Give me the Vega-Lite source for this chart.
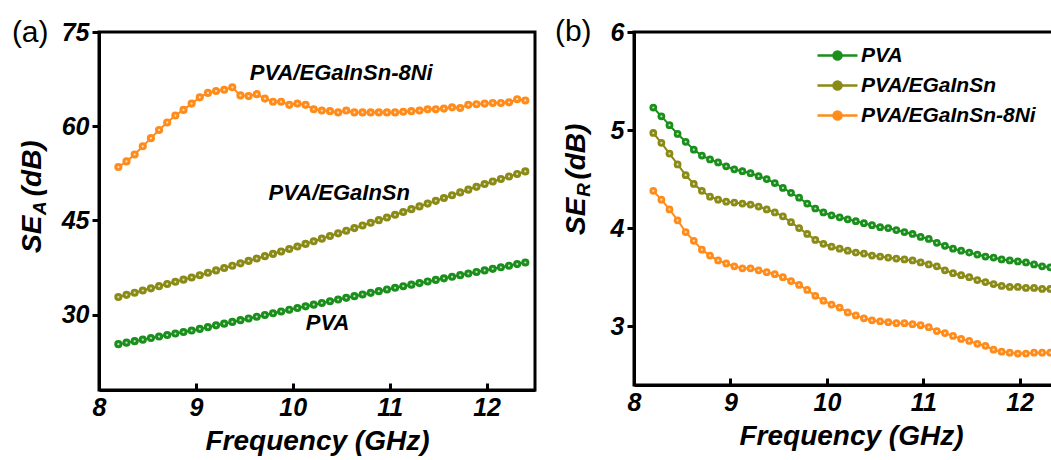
{
  "$schema": "https://vega.github.io/schema/vega-lite/v6.json",
  "background": "white",
  "padding": {"left": 10, "top": 15, "right": 5, "bottom": 5},
  "bounds": "flush",
  "spacing": 99,
  "resolve": {"scale": {"color": "independent"}, "legend": {"color": "independent"}},
  "config": {
    "font": "Liberation Sans",
    "view": {"stroke": "black", "strokeWidth": 3},
    "axis": {
      "domainColor": "black", "domainWidth": 3, "tickColor": "black", "tickWidth": 3,
      "grid": false, "labelFont": "Liberation Sans", "labelFontWeight": "bold",
      "labelFontStyle": "italic", "labelFontSize": 25, "labelColor": "black",
      "labelFlush": false, "labelOverlap": false, "format": "d",
      "titleFont": "Liberation Sans", "titleFontWeight": "bold", "titleFontStyle": "italic",
      "titleFontSize": 28, "titleColor": "black"
    }
  },
  "datasets": {
    "one": [{"k": 1}],
    "a": [
      {"f":8.2,"v":25.3,"s":"PVA"},{"f":8.284,"v":25.54,"s":"PVA"},{"f":8.368,"v":25.78,"s":"PVA"},{"f":8.452,"v":26.02,"s":"PVA"},{"f":8.536,"v":26.27,"s":"PVA"},{"f":8.62,"v":26.51,"s":"PVA"},{"f":8.704,"v":26.75,"s":"PVA"},{"f":8.788,"v":26.99,"s":"PVA"},{"f":8.872,"v":27.23,"s":"PVA"},{"f":8.956,"v":27.47,"s":"PVA"},{"f":9.04,"v":27.73,"s":"PVA"},{"f":9.124,"v":28.01,"s":"PVA"},{"f":9.208,"v":28.29,"s":"PVA"},{"f":9.292,"v":28.56,"s":"PVA"},{"f":9.376,"v":28.84,"s":"PVA"},{"f":9.46,"v":29.12,"s":"PVA"},{"f":9.544,"v":29.39,"s":"PVA"},{"f":9.628,"v":29.67,"s":"PVA"},{"f":9.712,"v":29.95,"s":"PVA"},{"f":9.796,"v":30.22,"s":"PVA"},{"f":9.88,"v":30.5,"s":"PVA"},{"f":9.964,"v":30.78,"s":"PVA"},{"f":10.048,"v":31.05,"s":"PVA"},{"f":10.132,"v":31.32,"s":"PVA"},{"f":10.216,"v":31.59,"s":"PVA"},{"f":10.3,"v":31.86,"s":"PVA"},{"f":10.384,"v":32.13,"s":"PVA"},{"f":10.468,"v":32.4,"s":"PVA"},{"f":10.552,"v":32.67,"s":"PVA"},{"f":10.636,"v":32.94,"s":"PVA"},{"f":10.72,"v":33.21,"s":"PVA"},{"f":10.804,"v":33.47,"s":"PVA"},{"f":10.888,"v":33.74,"s":"PVA"},{"f":10.972,"v":34.01,"s":"PVA"},{"f":11.056,"v":34.27,"s":"PVA"},{"f":11.14,"v":34.52,"s":"PVA"},{"f":11.224,"v":34.77,"s":"PVA"},{"f":11.308,"v":35.02,"s":"PVA"},{"f":11.392,"v":35.28,"s":"PVA"},{"f":11.476,"v":35.53,"s":"PVA"},{"f":11.56,"v":35.78,"s":"PVA"},{"f":11.644,"v":36.03,"s":"PVA"},{"f":11.728,"v":36.29,"s":"PVA"},{"f":11.812,"v":36.54,"s":"PVA"},{"f":11.896,"v":36.79,"s":"PVA"},{"f":11.98,"v":37.04,"s":"PVA"},{"f":12.064,"v":37.29,"s":"PVA"},{"f":12.148,"v":37.54,"s":"PVA"},{"f":12.232,"v":37.79,"s":"PVA"},{"f":12.316,"v":38.05,"s":"PVA"},{"f":12.4,"v":38.3,"s":"PVA"},
      {"f":8.2,"v":32.8,"s":"PVA/EGaInSn"},{"f":8.284,"v":33.15,"s":"PVA/EGaInSn"},{"f":8.368,"v":33.49,"s":"PVA/EGaInSn"},{"f":8.452,"v":33.84,"s":"PVA/EGaInSn"},{"f":8.536,"v":34.19,"s":"PVA/EGaInSn"},{"f":8.62,"v":34.53,"s":"PVA/EGaInSn"},{"f":8.704,"v":34.88,"s":"PVA/EGaInSn"},{"f":8.788,"v":35.23,"s":"PVA/EGaInSn"},{"f":8.872,"v":35.57,"s":"PVA/EGaInSn"},{"f":8.956,"v":35.92,"s":"PVA/EGaInSn"},{"f":9.04,"v":36.28,"s":"PVA/EGaInSn"},{"f":9.124,"v":36.66,"s":"PVA/EGaInSn"},{"f":9.208,"v":37.04,"s":"PVA/EGaInSn"},{"f":9.292,"v":37.42,"s":"PVA/EGaInSn"},{"f":9.376,"v":37.79,"s":"PVA/EGaInSn"},{"f":9.46,"v":38.17,"s":"PVA/EGaInSn"},{"f":9.544,"v":38.55,"s":"PVA/EGaInSn"},{"f":9.628,"v":38.93,"s":"PVA/EGaInSn"},{"f":9.712,"v":39.31,"s":"PVA/EGaInSn"},{"f":9.796,"v":39.68,"s":"PVA/EGaInSn"},{"f":9.88,"v":40.06,"s":"PVA/EGaInSn"},{"f":9.964,"v":40.44,"s":"PVA/EGaInSn"},{"f":10.048,"v":40.84,"s":"PVA/EGaInSn"},{"f":10.132,"v":41.26,"s":"PVA/EGaInSn"},{"f":10.216,"v":41.68,"s":"PVA/EGaInSn"},{"f":10.3,"v":42.1,"s":"PVA/EGaInSn"},{"f":10.384,"v":42.52,"s":"PVA/EGaInSn"},{"f":10.468,"v":42.94,"s":"PVA/EGaInSn"},{"f":10.552,"v":43.36,"s":"PVA/EGaInSn"},{"f":10.636,"v":43.78,"s":"PVA/EGaInSn"},{"f":10.72,"v":44.2,"s":"PVA/EGaInSn"},{"f":10.804,"v":44.62,"s":"PVA/EGaInSn"},{"f":10.888,"v":45.04,"s":"PVA/EGaInSn"},{"f":10.972,"v":45.46,"s":"PVA/EGaInSn"},{"f":11.056,"v":45.9,"s":"PVA/EGaInSn"},{"f":11.14,"v":46.34,"s":"PVA/EGaInSn"},{"f":11.224,"v":46.79,"s":"PVA/EGaInSn"},{"f":11.308,"v":47.23,"s":"PVA/EGaInSn"},{"f":11.392,"v":47.68,"s":"PVA/EGaInSn"},{"f":11.476,"v":48.12,"s":"PVA/EGaInSn"},{"f":11.56,"v":48.57,"s":"PVA/EGaInSn"},{"f":11.644,"v":49.01,"s":"PVA/EGaInSn"},{"f":11.728,"v":49.46,"s":"PVA/EGaInSn"},{"f":11.812,"v":49.9,"s":"PVA/EGaInSn"},{"f":11.896,"v":50.35,"s":"PVA/EGaInSn"},{"f":11.98,"v":50.79,"s":"PVA/EGaInSn"},{"f":12.064,"v":51.2,"s":"PVA/EGaInSn"},{"f":12.148,"v":51.6,"s":"PVA/EGaInSn"},{"f":12.232,"v":52.0,"s":"PVA/EGaInSn"},{"f":12.316,"v":52.4,"s":"PVA/EGaInSn"},{"f":12.4,"v":52.8,"s":"PVA/EGaInSn"},
      {"f":8.2,"v":53.5,"s":"PVA/EGaInSn-8Ni"},{"f":8.284,"v":54.4,"s":"PVA/EGaInSn-8Ni"},{"f":8.368,"v":55.5,"s":"PVA/EGaInSn-8Ni"},{"f":8.452,"v":56.8,"s":"PVA/EGaInSn-8Ni"},{"f":8.536,"v":58.1,"s":"PVA/EGaInSn-8Ni"},{"f":8.62,"v":59.4,"s":"PVA/EGaInSn-8Ni"},{"f":8.704,"v":60.6,"s":"PVA/EGaInSn-8Ni"},{"f":8.788,"v":61.7,"s":"PVA/EGaInSn-8Ni"},{"f":8.872,"v":62.6,"s":"PVA/EGaInSn-8Ni"},{"f":8.956,"v":63.6,"s":"PVA/EGaInSn-8Ni"},{"f":9.04,"v":64.6,"s":"PVA/EGaInSn-8Ni"},{"f":9.124,"v":65.3,"s":"PVA/EGaInSn-8Ni"},{"f":9.208,"v":65.6,"s":"PVA/EGaInSn-8Ni"},{"f":9.292,"v":65.8,"s":"PVA/EGaInSn-8Ni"},{"f":9.376,"v":66.2,"s":"PVA/EGaInSn-8Ni"},{"f":9.46,"v":64.9,"s":"PVA/EGaInSn-8Ni"},{"f":9.544,"v":64.8,"s":"PVA/EGaInSn-8Ni"},{"f":9.628,"v":65.1,"s":"PVA/EGaInSn-8Ni"},{"f":9.712,"v":64.4,"s":"PVA/EGaInSn-8Ni"},{"f":9.796,"v":63.9,"s":"PVA/EGaInSn-8Ni"},{"f":9.88,"v":63.9,"s":"PVA/EGaInSn-8Ni"},{"f":9.964,"v":63.4,"s":"PVA/EGaInSn-8Ni"},{"f":10.048,"v":63.6,"s":"PVA/EGaInSn-8Ni"},{"f":10.132,"v":63.4,"s":"PVA/EGaInSn-8Ni"},{"f":10.216,"v":62.7,"s":"PVA/EGaInSn-8Ni"},{"f":10.3,"v":62.5,"s":"PVA/EGaInSn-8Ni"},{"f":10.384,"v":62.4,"s":"PVA/EGaInSn-8Ni"},{"f":10.468,"v":62.2,"s":"PVA/EGaInSn-8Ni"},{"f":10.552,"v":62.5,"s":"PVA/EGaInSn-8Ni"},{"f":10.636,"v":62.2,"s":"PVA/EGaInSn-8Ni"},{"f":10.72,"v":62.2,"s":"PVA/EGaInSn-8Ni"},{"f":10.804,"v":62.2,"s":"PVA/EGaInSn-8Ni"},{"f":10.888,"v":62.2,"s":"PVA/EGaInSn-8Ni"},{"f":10.972,"v":62.2,"s":"PVA/EGaInSn-8Ni"},{"f":11.056,"v":62.2,"s":"PVA/EGaInSn-8Ni"},{"f":11.14,"v":62.3,"s":"PVA/EGaInSn-8Ni"},{"f":11.224,"v":62.4,"s":"PVA/EGaInSn-8Ni"},{"f":11.308,"v":62.5,"s":"PVA/EGaInSn-8Ni"},{"f":11.392,"v":62.7,"s":"PVA/EGaInSn-8Ni"},{"f":11.476,"v":62.7,"s":"PVA/EGaInSn-8Ni"},{"f":11.56,"v":62.8,"s":"PVA/EGaInSn-8Ni"},{"f":11.644,"v":63.0,"s":"PVA/EGaInSn-8Ni"},{"f":11.728,"v":62.9,"s":"PVA/EGaInSn-8Ni"},{"f":11.812,"v":63.4,"s":"PVA/EGaInSn-8Ni"},{"f":11.896,"v":63.5,"s":"PVA/EGaInSn-8Ni"},{"f":11.98,"v":63.6,"s":"PVA/EGaInSn-8Ni"},{"f":12.064,"v":63.7,"s":"PVA/EGaInSn-8Ni"},{"f":12.148,"v":63.7,"s":"PVA/EGaInSn-8Ni"},{"f":12.232,"v":63.8,"s":"PVA/EGaInSn-8Ni"},{"f":12.316,"v":64.3,"s":"PVA/EGaInSn-8Ni"},{"f":12.4,"v":64.1,"s":"PVA/EGaInSn-8Ni"}
    ],
    "b": [
      {"f":8.2,"v":5.23,"s":"PVA"},{"f":8.284,"v":5.14,"s":"PVA"},{"f":8.368,"v":5.05,"s":"PVA"},{"f":8.452,"v":4.96,"s":"PVA"},{"f":8.536,"v":4.88,"s":"PVA"},{"f":8.62,"v":4.8,"s":"PVA"},{"f":8.704,"v":4.74,"s":"PVA"},{"f":8.788,"v":4.7,"s":"PVA"},{"f":8.872,"v":4.67,"s":"PVA"},{"f":8.956,"v":4.63,"s":"PVA"},{"f":9.04,"v":4.6,"s":"PVA"},{"f":9.124,"v":4.58,"s":"PVA"},{"f":9.208,"v":4.56,"s":"PVA"},{"f":9.292,"v":4.53,"s":"PVA"},{"f":9.376,"v":4.5,"s":"PVA"},{"f":9.46,"v":4.46,"s":"PVA"},{"f":9.544,"v":4.41,"s":"PVA"},{"f":9.628,"v":4.36,"s":"PVA"},{"f":9.712,"v":4.31,"s":"PVA"},{"f":9.796,"v":4.25,"s":"PVA"},{"f":9.88,"v":4.2,"s":"PVA"},{"f":9.964,"v":4.16,"s":"PVA"},{"f":10.048,"v":4.13,"s":"PVA"},{"f":10.132,"v":4.11,"s":"PVA"},{"f":10.216,"v":4.09,"s":"PVA"},{"f":10.3,"v":4.07,"s":"PVA"},{"f":10.384,"v":4.05,"s":"PVA"},{"f":10.468,"v":4.03,"s":"PVA"},{"f":10.552,"v":4.01,"s":"PVA"},{"f":10.636,"v":4.0,"s":"PVA"},{"f":10.72,"v":3.98,"s":"PVA"},{"f":10.804,"v":3.96,"s":"PVA"},{"f":10.888,"v":3.94,"s":"PVA"},{"f":10.972,"v":3.91,"s":"PVA"},{"f":11.056,"v":3.89,"s":"PVA"},{"f":11.14,"v":3.85,"s":"PVA"},{"f":11.224,"v":3.82,"s":"PVA"},{"f":11.308,"v":3.79,"s":"PVA"},{"f":11.392,"v":3.77,"s":"PVA"},{"f":11.476,"v":3.75,"s":"PVA"},{"f":11.56,"v":3.73,"s":"PVA"},{"f":11.644,"v":3.71,"s":"PVA"},{"f":11.728,"v":3.7,"s":"PVA"},{"f":11.812,"v":3.68,"s":"PVA"},{"f":11.896,"v":3.67,"s":"PVA"},{"f":11.98,"v":3.66,"s":"PVA"},{"f":12.064,"v":3.65,"s":"PVA"},{"f":12.148,"v":3.63,"s":"PVA"},{"f":12.232,"v":3.61,"s":"PVA"},{"f":12.316,"v":3.6,"s":"PVA"},{"f":12.4,"v":3.58,"s":"PVA"},
      {"f":8.2,"v":4.97,"s":"PVA/EGaInSn"},{"f":8.284,"v":4.87,"s":"PVA/EGaInSn"},{"f":8.368,"v":4.76,"s":"PVA/EGaInSn"},{"f":8.452,"v":4.65,"s":"PVA/EGaInSn"},{"f":8.536,"v":4.54,"s":"PVA/EGaInSn"},{"f":8.62,"v":4.45,"s":"PVA/EGaInSn"},{"f":8.704,"v":4.38,"s":"PVA/EGaInSn"},{"f":8.788,"v":4.32,"s":"PVA/EGaInSn"},{"f":8.872,"v":4.29,"s":"PVA/EGaInSn"},{"f":8.956,"v":4.27,"s":"PVA/EGaInSn"},{"f":9.04,"v":4.26,"s":"PVA/EGaInSn"},{"f":9.124,"v":4.25,"s":"PVA/EGaInSn"},{"f":9.208,"v":4.24,"s":"PVA/EGaInSn"},{"f":9.292,"v":4.22,"s":"PVA/EGaInSn"},{"f":9.376,"v":4.19,"s":"PVA/EGaInSn"},{"f":9.46,"v":4.16,"s":"PVA/EGaInSn"},{"f":9.544,"v":4.12,"s":"PVA/EGaInSn"},{"f":9.628,"v":4.06,"s":"PVA/EGaInSn"},{"f":9.712,"v":4.0,"s":"PVA/EGaInSn"},{"f":9.796,"v":3.94,"s":"PVA/EGaInSn"},{"f":9.88,"v":3.88,"s":"PVA/EGaInSn"},{"f":9.964,"v":3.84,"s":"PVA/EGaInSn"},{"f":10.048,"v":3.81,"s":"PVA/EGaInSn"},{"f":10.132,"v":3.79,"s":"PVA/EGaInSn"},{"f":10.216,"v":3.77,"s":"PVA/EGaInSn"},{"f":10.3,"v":3.75,"s":"PVA/EGaInSn"},{"f":10.384,"v":3.74,"s":"PVA/EGaInSn"},{"f":10.468,"v":3.72,"s":"PVA/EGaInSn"},{"f":10.552,"v":3.71,"s":"PVA/EGaInSn"},{"f":10.636,"v":3.7,"s":"PVA/EGaInSn"},{"f":10.72,"v":3.69,"s":"PVA/EGaInSn"},{"f":10.804,"v":3.68,"s":"PVA/EGaInSn"},{"f":10.888,"v":3.67,"s":"PVA/EGaInSn"},{"f":10.972,"v":3.65,"s":"PVA/EGaInSn"},{"f":11.056,"v":3.63,"s":"PVA/EGaInSn"},{"f":11.14,"v":3.61,"s":"PVA/EGaInSn"},{"f":11.224,"v":3.57,"s":"PVA/EGaInSn"},{"f":11.308,"v":3.54,"s":"PVA/EGaInSn"},{"f":11.392,"v":3.52,"s":"PVA/EGaInSn"},{"f":11.476,"v":3.5,"s":"PVA/EGaInSn"},{"f":11.56,"v":3.47,"s":"PVA/EGaInSn"},{"f":11.644,"v":3.45,"s":"PVA/EGaInSn"},{"f":11.728,"v":3.43,"s":"PVA/EGaInSn"},{"f":11.812,"v":3.41,"s":"PVA/EGaInSn"},{"f":11.896,"v":3.4,"s":"PVA/EGaInSn"},{"f":11.98,"v":3.4,"s":"PVA/EGaInSn"},{"f":12.064,"v":3.39,"s":"PVA/EGaInSn"},{"f":12.148,"v":3.39,"s":"PVA/EGaInSn"},{"f":12.232,"v":3.38,"s":"PVA/EGaInSn"},{"f":12.316,"v":3.38,"s":"PVA/EGaInSn"},{"f":12.4,"v":3.38,"s":"PVA/EGaInSn"},
      {"f":8.2,"v":4.38,"s":"PVA/EGaInSn-8Ni"},{"f":8.284,"v":4.29,"s":"PVA/EGaInSn-8Ni"},{"f":8.368,"v":4.19,"s":"PVA/EGaInSn-8Ni"},{"f":8.452,"v":4.08,"s":"PVA/EGaInSn-8Ni"},{"f":8.536,"v":3.96,"s":"PVA/EGaInSn-8Ni"},{"f":8.62,"v":3.87,"s":"PVA/EGaInSn-8Ni"},{"f":8.704,"v":3.78,"s":"PVA/EGaInSn-8Ni"},{"f":8.788,"v":3.72,"s":"PVA/EGaInSn-8Ni"},{"f":8.872,"v":3.67,"s":"PVA/EGaInSn-8Ni"},{"f":8.956,"v":3.64,"s":"PVA/EGaInSn-8Ni"},{"f":9.04,"v":3.61,"s":"PVA/EGaInSn-8Ni"},{"f":9.124,"v":3.59,"s":"PVA/EGaInSn-8Ni"},{"f":9.208,"v":3.59,"s":"PVA/EGaInSn-8Ni"},{"f":9.292,"v":3.57,"s":"PVA/EGaInSn-8Ni"},{"f":9.376,"v":3.55,"s":"PVA/EGaInSn-8Ni"},{"f":9.46,"v":3.53,"s":"PVA/EGaInSn-8Ni"},{"f":9.544,"v":3.5,"s":"PVA/EGaInSn-8Ni"},{"f":9.628,"v":3.46,"s":"PVA/EGaInSn-8Ni"},{"f":9.712,"v":3.42,"s":"PVA/EGaInSn-8Ni"},{"f":9.796,"v":3.37,"s":"PVA/EGaInSn-8Ni"},{"f":9.88,"v":3.31,"s":"PVA/EGaInSn-8Ni"},{"f":9.964,"v":3.26,"s":"PVA/EGaInSn-8Ni"},{"f":10.048,"v":3.22,"s":"PVA/EGaInSn-8Ni"},{"f":10.132,"v":3.19,"s":"PVA/EGaInSn-8Ni"},{"f":10.216,"v":3.14,"s":"PVA/EGaInSn-8Ni"},{"f":10.3,"v":3.11,"s":"PVA/EGaInSn-8Ni"},{"f":10.384,"v":3.08,"s":"PVA/EGaInSn-8Ni"},{"f":10.468,"v":3.06,"s":"PVA/EGaInSn-8Ni"},{"f":10.552,"v":3.05,"s":"PVA/EGaInSn-8Ni"},{"f":10.636,"v":3.04,"s":"PVA/EGaInSn-8Ni"},{"f":10.72,"v":3.03,"s":"PVA/EGaInSn-8Ni"},{"f":10.804,"v":3.03,"s":"PVA/EGaInSn-8Ni"},{"f":10.888,"v":3.02,"s":"PVA/EGaInSn-8Ni"},{"f":10.972,"v":3.01,"s":"PVA/EGaInSn-8Ni"},{"f":11.056,"v":2.99,"s":"PVA/EGaInSn-8Ni"},{"f":11.14,"v":2.95,"s":"PVA/EGaInSn-8Ni"},{"f":11.224,"v":2.93,"s":"PVA/EGaInSn-8Ni"},{"f":11.308,"v":2.9,"s":"PVA/EGaInSn-8Ni"},{"f":11.392,"v":2.87,"s":"PVA/EGaInSn-8Ni"},{"f":11.476,"v":2.85,"s":"PVA/EGaInSn-8Ni"},{"f":11.56,"v":2.82,"s":"PVA/EGaInSn-8Ni"},{"f":11.644,"v":2.8,"s":"PVA/EGaInSn-8Ni"},{"f":11.728,"v":2.76,"s":"PVA/EGaInSn-8Ni"},{"f":11.812,"v":2.74,"s":"PVA/EGaInSn-8Ni"},{"f":11.896,"v":2.73,"s":"PVA/EGaInSn-8Ni"},{"f":11.98,"v":2.72,"s":"PVA/EGaInSn-8Ni"},{"f":12.064,"v":2.72,"s":"PVA/EGaInSn-8Ni"},{"f":12.148,"v":2.73,"s":"PVA/EGaInSn-8Ni"},{"f":12.232,"v":2.73,"s":"PVA/EGaInSn-8Ni"},{"f":12.316,"v":2.73,"s":"PVA/EGaInSn-8Ni"},{"f":12.4,"v":2.72,"s":"PVA/EGaInSn-8Ni"}
    ]
  },
  "hconcat": [
    {
      "width": 436,
      "height": 358,
      "layer": [
        {
          "data": {"name": "a"},
          "mark": {"type": "line", "strokeWidth": 2},
          "encoding": {
            "x": {"field": "f", "type": "quantitative", "scale": {"domain": [8, 12.5], "nice": false, "zero": false},
                  "axis": {"values": [8, 9, 10, 11, 12], "tickSize": -7, "labelPadding": 12, "title": "Frequency (GHz)", "titlePadding": 7}},
            "y": {"field": "v", "type": "quantitative", "scale": {"domain": [18, 75], "nice": false, "zero": false},
                  "axis": {"values": [30, 45, 60, 75], "tickSize": 7, "labelPadding": 3, "title": null}},
            "color": {"field": "s", "type": "nominal", "scale": {"domain": ["PVA", "PVA/EGaInSn", "PVA/EGaInSn-8Ni"], "range": ["#1b8f1b", "#8a8a16", "#ff8c1a"]}, "legend": null}
          }
        },
        {
          "data": {"name": "a"},
          "mark": {"type": "point", "filled": true, "size": 66, "opacity": 1},
          "encoding": {
            "x": {"field": "f", "type": "quantitative"},
            "y": {"field": "v", "type": "quantitative"},
            "color": {"field": "s", "type": "nominal", "legend": null}
          }
        },
        {
          "data": {"name": "a"},
          "mark": {"type": "point", "filled": true, "size": 5, "color": "white", "opacity": 0.7},
          "encoding": {
            "x": {"field": "f", "type": "quantitative"},
            "y": {"field": "v", "type": "quantitative"}
          }
        },
        {
          "data": {"name": "one"},
          "mark": {"type": "text", "font": "Liberation Sans", "fontSize": 22, "fontWeight": "bold", "fontStyle": "italic", "color": "black", "align": "center", "baseline": "middle"},
          "encoding": {"x": {"datum": 10.5, "type": "quantitative"}, "y": {"datum": 68.5, "type": "quantitative"}, "text": {"value": "PVA/EGaInSn-8Ni"}}
        },
        {
          "data": {"name": "one"},
          "mark": {"type": "text", "font": "Liberation Sans", "fontSize": 22, "fontWeight": "bold", "fontStyle": "italic", "color": "black", "align": "center", "baseline": "middle"},
          "encoding": {"x": {"datum": 10.48, "type": "quantitative"}, "y": {"datum": 49.3, "type": "quantitative"}, "text": {"value": "PVA/EGaInSn"}}
        },
        {
          "data": {"name": "one"},
          "mark": {"type": "text", "font": "Liberation Sans", "fontSize": 22, "fontWeight": "bold", "fontStyle": "italic", "color": "black", "align": "center", "baseline": "middle"},
          "encoding": {"x": {"datum": 10.36, "type": "quantitative"}, "y": {"datum": 28.6, "type": "quantitative"}, "text": {"value": "PVA"}}
        },
        {
          "data": {"name": "one"},
          "mark": {"type": "text", "font": "Liberation Sans", "fontSize": 30, "color": "black", "align": "center", "baseline": "middle"},
          "encoding": {"x": {"datum": 7.29, "type": "quantitative"}, "y": {"datum": 74.8, "type": "quantitative"}, "text": {"value": "(a)"}}
        },
        {
          "data": {"name": "one"},
          "mark": {"type": "text", "font": "Liberation Sans", "fontSize": 28, "fontWeight": "bold", "fontStyle": "italic", "color": "black", "align": "center", "baseline": "middle", "angle": 270},
          "encoding": {"x": {"datum": 7.316, "type": "quantitative"}, "y": {"datum": 42.8, "type": "quantitative"}, "text": {"value": "SE"}}
        },
        {
          "data": {"name": "one"},
          "mark": {"type": "text", "font": "Liberation Sans", "fontSize": 19, "fontWeight": "bold", "fontStyle": "italic", "color": "black", "align": "center", "baseline": "middle", "angle": 270, "dy": 7},
          "encoding": {"x": {"datum": 7.316, "type": "quantitative"}, "y": {"datum": 46.95, "type": "quantitative"}, "text": {"value": "A"}}
        },
        {
          "data": {"name": "one"},
          "mark": {"type": "text", "font": "Liberation Sans", "fontSize": 28, "fontWeight": "bold", "fontStyle": "italic", "color": "black", "align": "center", "baseline": "middle", "angle": 270},
          "encoding": {"x": {"datum": 7.316, "type": "quantitative"}, "y": {"datum": 53.3, "type": "quantitative"}, "text": {"value": "(dB)"}}
        }
      ]
    },
    {
      "width": 434,
      "height": 353,
      "layer": [
        {
          "data": {"name": "b"},
          "mark": {"type": "line", "strokeWidth": 2},
          "encoding": {
            "x": {"field": "f", "type": "quantitative", "scale": {"domain": [8, 12.5], "nice": false, "zero": false},
                  "axis": {"values": [8, 9, 10, 11, 12], "tickSize": -7, "labelPadding": 12, "title": "Frequency (GHz)", "titlePadding": 7}},
            "y": {"field": "v", "type": "quantitative", "scale": {"domain": [2.4, 6], "nice": false, "zero": false},
                  "axis": {"values": [3, 4, 5, 6], "tickSize": 7, "labelPadding": 3, "title": null}},
            "color": {"field": "s", "type": "nominal", "scale": {"domain": ["PVA", "PVA/EGaInSn", "PVA/EGaInSn-8Ni"], "range": ["#1b8f1b", "#8a8a16", "#ff8c1a"]},
                      "legend": {"title": null, "orient": "none", "legendX": 192, "legendY": 12, "padding": 0,
                                 "symbolType": "M-2,0L2,0M0.4,0A0.4,0.4,0,1,1,-0.4,0A0.4,0.4,0,1,1,0.4,0",
                                 "symbolSize": 400, "symbolStrokeWidth": 2.5, "labelOffset": 12, "rowPadding": 8,
                                 "labelFont": "Liberation Sans", "labelFontSize": 21, "labelFontWeight": "bold", "labelFontStyle": "italic", "labelColor": "black", "labelLimit": 400}}
          }
        },
        {
          "data": {"name": "b"},
          "mark": {"type": "point", "filled": true, "size": 60, "opacity": 1},
          "encoding": {
            "x": {"field": "f", "type": "quantitative"},
            "y": {"field": "v", "type": "quantitative"},
            "color": {"field": "s", "type": "nominal", "legend": null}
          }
        },
        {
          "data": {"name": "b"},
          "mark": {"type": "point", "filled": true, "size": 5, "color": "white", "opacity": 0.7},
          "encoding": {
            "x": {"field": "f", "type": "quantitative"},
            "y": {"field": "v", "type": "quantitative"}
          }
        },
        {
          "data": {"name": "one"},
          "mark": {"type": "text", "font": "Liberation Sans", "fontSize": 30, "color": "black", "align": "center", "baseline": "middle"},
          "encoding": {"x": {"datum": 7.37, "type": "quantitative"}, "y": {"datum": 5.997, "type": "quantitative"}, "text": {"value": "(b)"}}
        },
        {
          "data": {"name": "one"},
          "mark": {"type": "text", "font": "Liberation Sans", "fontSize": 28, "fontWeight": "bold", "fontStyle": "italic", "color": "black", "align": "center", "baseline": "middle", "angle": 270},
          "encoding": {"x": {"datum": 7.406, "type": "quantitative"}, "y": {"datum": 4.12, "type": "quantitative"}, "text": {"value": "SE"}}
        },
        {
          "data": {"name": "one"},
          "mark": {"type": "text", "font": "Liberation Sans", "fontSize": 19, "fontWeight": "bold", "fontStyle": "italic", "color": "black", "align": "center", "baseline": "middle", "angle": 270, "dy": 7},
          "encoding": {"x": {"datum": 7.406, "type": "quantitative"}, "y": {"datum": 4.39, "type": "quantitative"}, "text": {"value": "R"}}
        },
        {
          "data": {"name": "one"},
          "mark": {"type": "text", "font": "Liberation Sans", "fontSize": 28, "fontWeight": "bold", "fontStyle": "italic", "color": "black", "align": "center", "baseline": "middle", "angle": 270},
          "encoding": {"x": {"datum": 7.406, "type": "quantitative"}, "y": {"datum": 4.78, "type": "quantitative"}, "text": {"value": "(dB)"}}
        }
      ]
    }
  ]
}
